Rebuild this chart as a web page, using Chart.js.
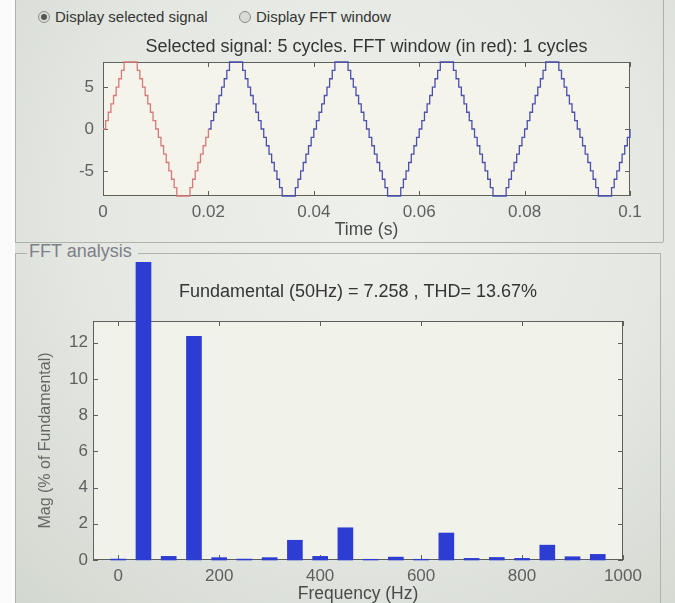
<!DOCTYPE html>
<html>
<head>
<meta charset="utf-8">
<script src="https://cdn.jsdelivr.net/npm/chart.js@4.4.1/dist/chart.umd.min.js"></script>
<style>
  html, body { margin: 0; padding: 0; }
  body {
    width: 675px; height: 603px; overflow: hidden; position: relative;
    font-family: "Liberation Sans", Arial, sans-serif;
    background: radial-gradient(ellipse at 55% 35%, #eef0ec 0%, #e4e7e2 55%, #d2d7cf 100%);
  }
  .strip { position: absolute; left: 0; top: 0; width: 15px; height: 603px; background: #fafbfa; }
  .line { position: absolute; background: #aeb2ac; }
  .radio { position: absolute; top: 8px; font-size: 15px; color: #353535; }
  .dot { display: inline-block; width: 10px; height: 10px; border-radius: 50%; border: 1px solid #8a8d8a;
         background: #d8dbd6; vertical-align: -1px; margin-right: 5px; position: relative; }
  .dot.on::after { content: ""; position: absolute; left: 2px; top: 2px; width: 6px; height: 6px; border-radius: 50%; background: #555; }
  .legend { position: absolute; left: 29px; top: 241px; font-size: 18px; color: #7d8089; }
  canvas { position: absolute; }
</style>
</head>
<body>
<div class="strip"></div>
<div class="radio" style="left:38px"><span class="dot on"></span>Display selected signal</div>
<div class="radio" style="left:239px"><span class="dot"></span>Display FFT window</div>

<!-- panel frames -->
<div class="line" style="left:15px;top:0;width:1px;height:242px"></div>
<div class="line" style="left:15px;top:242px;width:648px;height:1px"></div>
<div class="line" style="left:663px;top:0;width:1px;height:242px"></div>
<div class="line" style="left:15px;top:253px;width:12px;height:1px"></div>
<div class="line" style="left:138px;top:253px;width:522px;height:1px"></div>
<div class="line" style="left:15px;top:253px;width:1px;height:350px"></div>
<div class="line" style="left:660px;top:253px;width:1px;height:350px"></div>
<div class="legend">FFT analysis</div>

<canvas id="signalChart" width="640" height="219" style="left:20px;top:26px"></canvas>
<canvas id="fftChart" width="640" height="345" style="left:20px;top:262px"></canvas>

<script>
// Signal: one cycle of the staircase, one level every 0.5 ms
const sampleStep = 0.0005;
const cycleLevels = [0, 1, 2, 3, 4, 5, 6, 7, 8, 8, 8, 8, 8,
                     7, 6, 5, 4, 3, 2, 1, 0, -1, -2, -3, -4, -5, -6, -7,
                     -8, -8, -8, -8, -8, -7, -6, -5, -4, -3, -2, -1];
const signalCycles = 5;
const fftWindowCycles = 1;
const timeTicks = [0, 0.02, 0.04, 0.06, 0.08, 0.1];
const signalTicks = [-5, 0, 5];

// FFT bars (% of fundamental), fundamental at 50 Hz goes off the axes
const fftFreqs = [0, 50, 100, 150, 200, 250, 300, 350, 400, 450,
                  500, 550, 600, 650, 700, 750, 800, 850, 900, 950];
const fftMags = [0.05, 100, 0.2, 12.36, 0.13, 0.05, 0.13, 1.09, 0.2, 1.78,
                 0.04, 0.16, 0.04, 1.49, 0.09, 0.14, 0.09, 0.82, 0.18, 0.31];
const freqTicks = [0, 200, 400, 600, 800, 1000];
const magTicks = [0, 2, 4, 6, 8, 10, 12];

const FONT = '"Liberation Sans", Arial, sans-serif';

// build the red (FFT window) and blue parts of the selected signal
function buildSignal(fromCycle, toCycle) {
    const pts = [];
    const period = cycleLevels.length * sampleStep;
    for (let c = fromCycle; c < toCycle; c++) {
        cycleLevels.forEach((v, i) => pts.push({ x: c * period + i * sampleStep, y: v }));
    }
    pts.push({ x: toCycle * period, y: cycleLevels[0] });
    return pts;
}

// MATLAB style box with inward ticks on all four sides, title centred over the axes
const matlabBox = {
    id: 'matlabBox',
    beforeDatasetsDraw(chart, args, opts) {
        const { ctx, chartArea: a, scales } = chart;
        ctx.save();
        ctx.fillStyle = opts.bg;
        ctx.fillRect(a.left, a.top, a.right - a.left, a.bottom - a.top);
        ctx.strokeStyle = '#5d605d';
        ctx.lineWidth = 1;
        ctx.strokeRect(a.left + 0.5, a.top + 0.5, a.right - a.left - 1, a.bottom - a.top - 1);
        ctx.beginPath();
        scales.x.ticks.forEach(t => {
            const px = Math.round(scales.x.getPixelForValue(t.value)) + 0.5;
            ctx.moveTo(px, a.bottom); ctx.lineTo(px, a.bottom - 5);
            ctx.moveTo(px, a.top); ctx.lineTo(px, a.top + 5);
        });
        scales.y.ticks.forEach(t => {
            const py = Math.round(scales.y.getPixelForValue(t.value)) + 0.5;
            ctx.moveTo(a.left, py); ctx.lineTo(a.left + 5, py);
            ctx.moveTo(a.right, py); ctx.lineTo(a.right - 5, py);
        });
        ctx.stroke();
        ctx.fillStyle = '#353535';
        ctx.font = '18px ' + FONT;
        ctx.textAlign = 'center';
        ctx.textBaseline = 'middle';
        ctx.fillText(opts.title, (a.left + a.right) / 2, opts.titleY);
        ctx.restore();
    }
};

function setTicks(values) {
    return scale => { scale.ticks = values.map(v => ({ value: v })); };
}

const tickFont = { family: FONT, size: 17 };

new Chart(document.getElementById('signalChart'), {
    type: 'line',
    data: {
        datasets: [
            {
                data: buildSignal(0, fftWindowCycles),
                borderColor: '#d7787a',
                borderWidth: 1.3,
                stepped: true,
                pointRadius: 0,
                clip: 2
            },
            {
                data: buildSignal(fftWindowCycles, signalCycles),
                borderColor: '#4b4fae',
                borderWidth: 1.3,
                stepped: true,
                pointRadius: 0,
                clip: 2
            }
        ]
    },
    options: {
        responsive: false,
        animation: false,
        events: [],
        layout: { padding: { top: 36, right: 30 } },
        plugins: {
            legend: { display: false },
            tooltip: { enabled: false },
            matlabBox: {
                bg: '#f4f4ea',
                title: 'Selected signal: ' + signalCycles + ' cycles. FFT window (in red): ' + fftWindowCycles + ' cycles',
                titleY: 21
            }
        },
        scales: {
            x: {
                type: 'linear', min: 0, max: 0.1,
                afterBuildTicks: setTicks(timeTicks),
                afterFit: s => { s.height = 49; },
                grid: { display: false, drawTicks: false },
                border: { display: false },
                ticks: {
                    color: '#5f5f5f', padding: 6, maxRotation: 0, font: tickFont,
                    callback: v => String(+v.toFixed(2))
                },
                title: { display: true, text: 'Time (s)', color: '#4a4a4a',
                         font: { family: FONT, size: 17.5 }, padding: { top: 0, bottom: 4 } }
            },
            y: {
                min: -8, max: 8,
                afterBuildTicks: setTicks(signalTicks),
                afterFit: s => { s.width = 83; },
                grid: { display: false, drawTicks: false },
                border: { display: false },
                ticks: { color: '#5f5f5f', padding: 9, font: tickFont }
            }
        }
    },
    plugins: [matlabBox]
});

new Chart(document.getElementById('fftChart'), {
    type: 'bar',
    data: {
        datasets: [{
            data: fftFreqs.map((f, i) => ({ x: f, y: fftMags[i] })),
            backgroundColor: '#2d3cd2',
            borderWidth: 0,
            barThickness: 15,
            clip: false
        }]
    },
    options: {
        responsive: false,
        animation: false,
        events: [],
        layout: { padding: { top: 59, right: 37 } },
        plugins: {
            legend: { display: false },
            tooltip: { enabled: false },
            matlabBox: {
                bg: '#f1f2ea',
                title: 'Fundamental (50Hz) = 7.258 , THD= 13.67%',
                titleY: 30
            }
        },
        scales: {
            x: {
                type: 'linear', min: -50, max: 1000, offset: false,
                afterBuildTicks: setTicks(freqTicks),
                afterFit: s => { s.height = 47; },
                grid: { display: false, drawTicks: false, offset: false },
                border: { display: false },
                ticks: { color: '#5f5f5f', padding: 6, maxRotation: 0, font: tickFont,
                         callback: v => String(v) },
                title: { display: true, text: 'Frequency (Hz)', color: '#4a4a4a',
                         font: { family: FONT, size: 17.5 }, padding: { top: 0, bottom: 2 } }
            },
            y: {
                min: 0, max: 13.2,
                afterBuildTicks: setTicks(magTicks),
                afterFit: s => { s.width = 73; },
                grid: { display: false, drawTicks: false },
                border: { display: false },
                ticks: { color: '#5f5f5f', padding: 5, font: tickFont },
                title: { display: true, text: 'Mag (% of Fundamental)', color: '#666666',
                         font: { family: FONT, size: 16 }, padding: { top: 16, bottom: 0 } }
            }
        }
    },
    plugins: [matlabBox]
});
</script>
</body>
</html>
